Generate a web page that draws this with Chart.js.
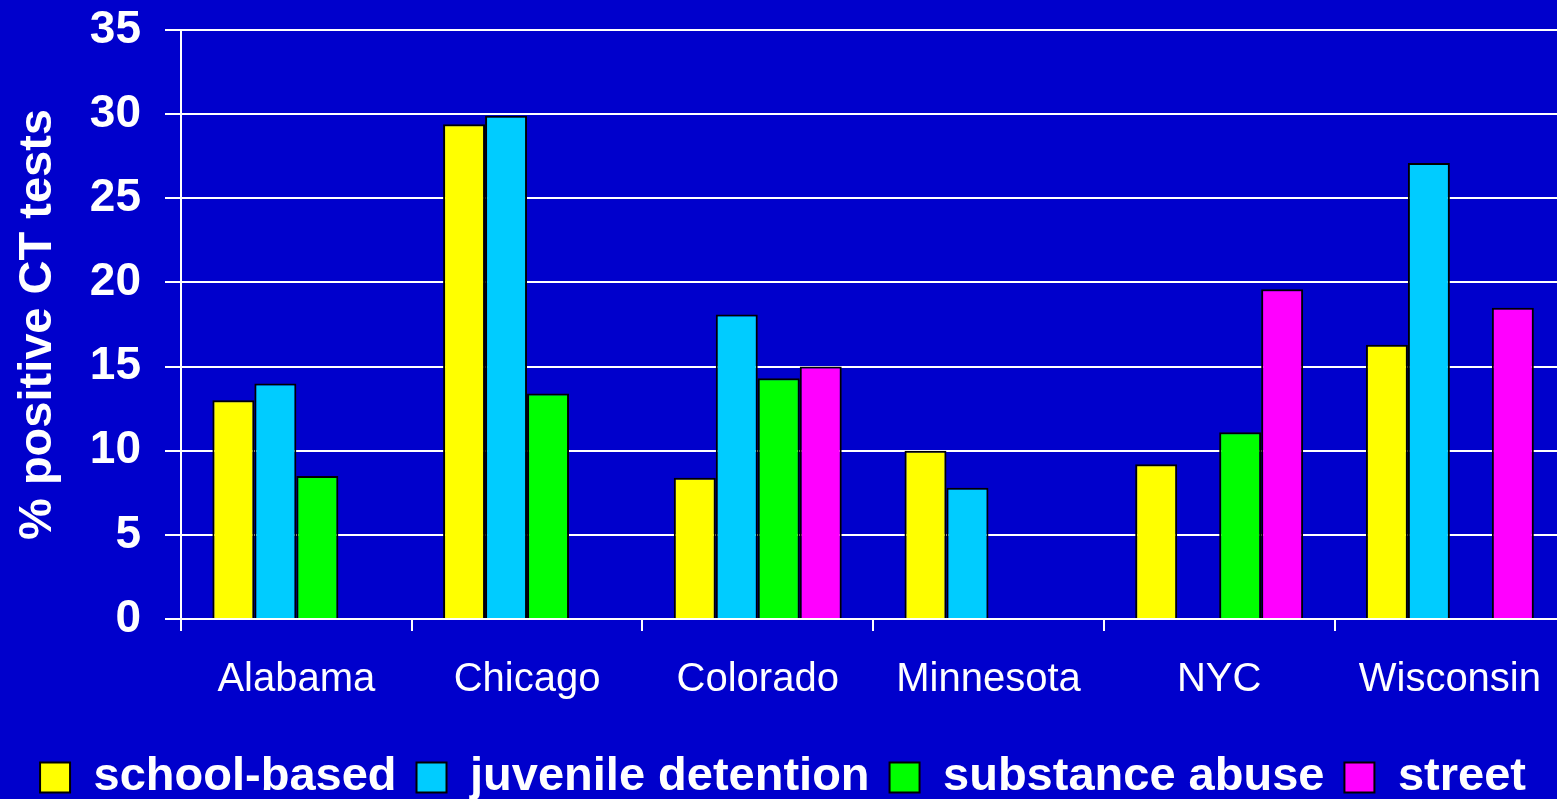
<!DOCTYPE html>
<html>
<head>
<meta charset="utf-8">
<script src="https://cdn.jsdelivr.net/npm/chart.js@4/dist/chart.umd.min.js"></script>
<style>
  html, body { margin: 0; padding: 0; background: #0000CC; overflow: hidden; }
  #wrap { width: 1566px; height: 811px; }
</style>
</head>
<body>
<div id="wrap"><canvas id="c" width="1566" height="811"></canvas></div>
<script>
const categories = ['Alabama', 'Chicago', 'Colorado', 'Minnesota', 'NYC', 'Wisconsin'];
const seriesNames = ['school-based', 'juvenile detention', 'substance abuse', 'street'];
const schoolBased = [13.0, 29.4, 8.4, 10.0, 9.2, 16.3];
const juvenileDetention = [14.0, 29.9, 18.1, 7.8, null, 27.1];
const substanceAbuse = [8.5, 13.4, 14.3, null, 11.1, null];
const street = [null, null, 15.0, null, 19.6, 18.5];
const yTicks = [0, 5, 10, 15, 20, 25, 30, 35];
const colors = ['#FFFF00', '#00CCFF', '#00FF00', '#FF00FF'];

const seriesValues = [schoolBased, juvenileDetention, substanceAbuse, street];

const bg = {
  id: 'bg',
  beforeDraw(chart) {
    const ctx = chart.ctx;
    ctx.save();
    ctx.fillStyle = '#0000CC';
    ctx.fillRect(0, 0, chart.width, chart.height);
    ctx.restore();
  }
};

new Chart(document.getElementById('c'), {
  type: 'bar',
  data: {
    labels: categories,
    datasets: seriesNames.map((name, i) => ({
      label: name,
      data: seriesValues[i],
      backgroundColor: colors[i],
      borderColor: '#000000',
      borderWidth: 2,
      borderSkipped: 'start',
      categoryPercentage: 0.728,
      barPercentage: 1.0
    }))
  },
  options: {
    responsive: false,
    devicePixelRatio: 1,
    animation: false,
    layout: { padding: { top: 0, right: 0, bottom: 0, left: 0 } },
    plugins: {
      legend: {
        position: 'bottom',
        labels: {
          color: '#FFFFFF',
          font: { family: 'Liberation Sans, Arial, sans-serif', size: 47, weight: 'bold' },
          boxWidth: 30,
          boxHeight: 30,
          padding: 20
        }
      },
      tooltip: { enabled: false }
    },
    scales: {
      x: {
        offset: true,
        afterFit(scale) { scale.height = 115; },
        grid: {
          display: true,
          drawOnChartArea: false,
          drawTicks: true,
          tickLength: 12,
          color: '#FFFFFF',
          lineWidth: 2,
          offset: true
        },
        border: { display: true, color: '#FFFFFF', width: 2 },
        ticks: {
          color: '#FFFFFF',
          font: { family: 'Liberation Sans, Arial, sans-serif', size: 40 },
          padding: 25,
          maxRotation: 0,
          autoSkip: false
        }
      },
      y: {
        min: 0,
        max: 35,
        afterBuildTicks(scale) { scale.ticks = yTicks.map(v => ({ value: v })); },
        afterFit(scale) { scale.width = 181; scale.paddingTop = 30; scale.paddingBottom = 0; },
        grid: {
          color: '#FFFFFF',
          lineWidth: 2,
          drawTicks: true,
          tickLength: 16
        },
        border: { display: true, color: '#FFFFFF', width: 2 },
        ticks: {
          color: '#FFFFFF',
          font: { family: 'Liberation Sans, Arial, sans-serif', size: 46, weight: 'bold' },
          padding: 24
        },
        title: {
          display: true,
          text: '% positive CT tests',
          color: '#FFFFFF',
          font: { family: 'Liberation Sans, Arial, sans-serif', size: 47, weight: 'bold' },
          padding: { top: 10, bottom: 0 }
        }
      }
    }
  },
  plugins: [bg]
});
</script>
</body>
</html>
